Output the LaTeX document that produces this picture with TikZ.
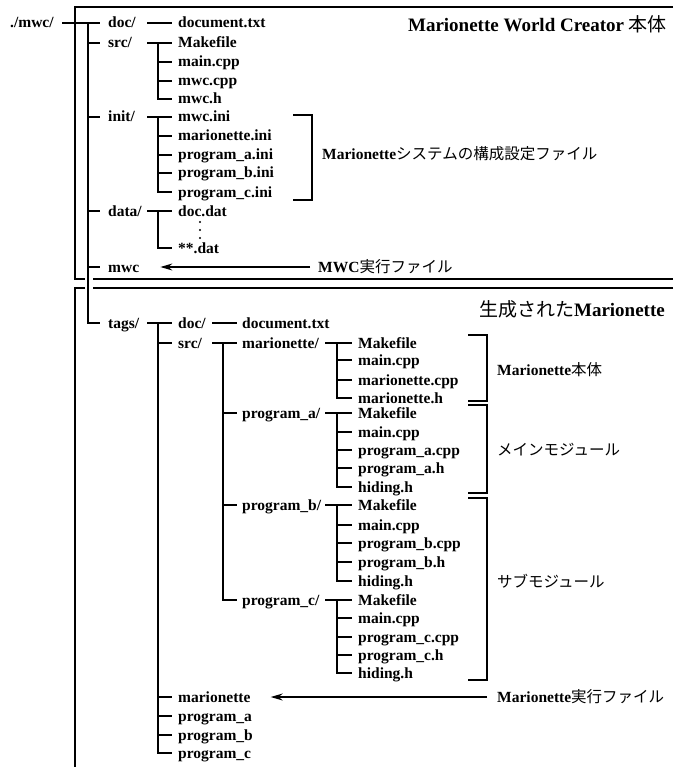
\documentclass[tikz,border=0pt]{standalone}
\usepackage{fontspec}
\setmainfont{Liberation Serif}
\newfontfamily\cjk{Noto Sans CJK JP}
\usetikzlibrary{arrows.meta}
\newcommand\jtxt[1]{{\cjk\mdseries #1}}
\newcommand\tgrp[6]{\draw[tree] (#1 -| #2) -- (#5 -| #4); \draw[tree] (#5 -| #3) |- (#6 -| #4);}
\newcommand\tmid[3]{\draw[tree] (#1 -| #2) -- (#1 -| #3);}
\begin{document}
\begin{tikzpicture}[x=1pt,y=-1pt,
  lbl/.style={anchor=west, inner sep=0pt, text height=12pt, text depth=2pt, font=\fontsize{15.5}{18}\selectfont\bfseries},
  ttl/.style={anchor=base east, inner sep=0pt, font=\fontsize{19}{22}\selectfont\bfseries},
  tree/.style={line width=2pt, line join=miter},
  boxl/.style={line width=1.3pt},
  brk/.style={line width=1.5pt, line join=miter},
  arr/.style={line width=1.3pt, -{Stealth[length=12pt,width=7pt,inset=4pt]}}]
\useasboundingbox (0,0) rectangle (673,767);
% column coordinates
\coordinate (xr0) at (62,0);
\coordinate (xt0) at (88,0);
\coordinate (xe0) at (100,0);
\coordinate (xs1) at (147,0);
\coordinate (xt1) at (158,0);
\coordinate (xe1) at (172,0);
\coordinate (xs2) at (212,0);
\coordinate (xt2) at (223,0);
\coordinate (xe2) at (237,0);
\coordinate (xs3) at (325,0);
\coordinate (xt3) at (337,0);
\coordinate (xe3) at (352,0);
% boxes
\draw[boxl] (673,7) -- (75,7) -- (75,279) -- (85,279);
\draw[boxl] (93,279) -- (673,279);
\draw[boxl] (673,288) -- (93,288);
\draw[boxl] (85,288) -- (75,288) -- (75,767);
% titles
\node[ttl] (t1) at (667,32) {Marionette World Creator \jtxt{本体}};
\node[ttl] (t2) at (665,316) {\jtxt{生成された}Marionette};
% top tree
\node[lbl] (root) at (10,23) {./mwc/};
\node[lbl] (adoc) at (108,23) {doc/};
\node[lbl] (adoctxt) at (178,23) {document.txt};
\node[lbl] (asrc) at (108,43) {src/};
\node[lbl] (amk) at (178,43) {Makefile};
\node[lbl] (amain) at (178,62) {main.cpp};
\node[lbl] (amwccpp) at (178,81) {mwc.cpp};
\node[lbl] (amwch) at (178,99) {mwc.h};
\node[lbl] (ainit) at (108,117) {init/};
\node[lbl] (ai1) at (178,117) {mwc.ini};
\node[lbl] (ai2) at (178,136) {marionette.ini};
\node[lbl] (ai3) at (178,155) {program\_a.ini};
\node[lbl] (ai4) at (178,173) {program\_b.ini};
\node[lbl] (ai5) at (178,192) {program\_c.ini};
\node[lbl] (adata) at (108,211) {data/};
\node[lbl] (add) at (178,211) {doc.dat};
\node[lbl] (asd) at (178,248) {**.dat};
\node[lbl] (amwc) at (108,267) {mwc};
\node[lbl] (lmwc) at (318,267) {MWC\jtxt{実行ファイル}};
\node[lbl] (linit) at (322,155) {Marionette\jtxt{システムの構成設定ファイル}};
% lower tree
\node[lbl] (btags) at (108,323) {tags/};
\node[lbl] (bdoc) at (178,323) {doc/};
\node[lbl] (bdoctxt) at (242,323) {document.txt};
\node[lbl] (bsrc) at (178,343) {src/};
\node[lbl] (cmar) at (242,343) {marionette/};
\node[lbl] (m1) at (358,343) {Makefile};
\node[lbl] (m2) at (358,360) {main.cpp};
\node[lbl] (m3) at (358,380) {marionette.cpp};
\node[lbl] (m4) at (358,398) {marionette.h};
\node[lbl] (cpa) at (242,413) {program\_a/};
\node[lbl] (pa1) at (358,413) {Makefile};
\node[lbl] (pa2) at (358,432) {main.cpp};
\node[lbl] (pa3) at (358,450) {program\_a.cpp};
\node[lbl] (pa4) at (358,468) {program\_a.h};
\node[lbl] (pa5) at (358,487) {hiding.h};
\node[lbl] (cpb) at (242,505) {program\_b/};
\node[lbl] (pb1) at (358,505) {Makefile};
\node[lbl] (pb2) at (358,525) {main.cpp};
\node[lbl] (pb3) at (358,543) {program\_b.cpp};
\node[lbl] (pb4) at (358,562) {program\_b.h};
\node[lbl] (pb5) at (358,581) {hiding.h};
\node[lbl] (cpc) at (242,600) {program\_c/};
\node[lbl] (pc1) at (358,600) {Makefile};
\node[lbl] (pc2) at (358,618) {main.cpp};
\node[lbl] (pc3) at (358,637) {program\_c.cpp};
\node[lbl] (pc4) at (358,655) {program\_c.h};
\node[lbl] (pc5) at (358,673) {hiding.h};
\node[lbl] (bmar) at (178,697) {marionette};
\node[lbl] (bpa) at (178,716) {program\_a};
\node[lbl] (bpb) at (178,735) {program\_b};
\node[lbl] (bpc) at (178,753) {program\_c};
\node[lbl] (lmar) at (497,370) {Marionette\jtxt{本体}};
\node[lbl] (lpa) at (497,450) {\jtxt{メインモジュール}};
\node[lbl] (lpb) at (497,582) {\jtxt{サブモジュール}};
\node[lbl] (lexe) at (497,697) {Marionette\jtxt{実行ファイル}};
% tree connectors
\tgrp{root}{xr0}{xt0}{xe0}{adoc}{btags}
\foreach \n in {asrc,ainit,adata,amwc} {\tmid{\n}{xt0}{xe0}}
\draw[tree] (adoc -| xs1) -- (adoctxt -| xe1);
\tgrp{asrc}{xs1}{xt1}{xe1}{amk}{amwch}
\foreach \n in {amain,amwccpp} {\tmid{\n}{xt1}{xe1}}
\tgrp{ainit}{xs1}{xt1}{xe1}{ai1}{ai5}
\foreach \n in {ai2,ai3,ai4} {\tmid{\n}{xt1}{xe1}}
\tgrp{adata}{xs1}{xt1}{xe1}{add}{asd}
\tgrp{btags}{xs1}{xt1}{xe1}{bdoc}{bpc}
\foreach \n in {bsrc,bmar,bpa,bpb} {\tmid{\n}{xt1}{xe1}}
\draw[tree] (bdoc -| xs2) -- (bdoctxt -| xe2);
\tgrp{bsrc}{xs2}{xt2}{xe2}{cmar}{cpc}
\foreach \n in {cpa,cpb} {\tmid{\n}{xt2}{xe2}}
\tgrp{cmar}{xs3}{xt3}{xe3}{m1}{m4}
\foreach \n in {m2,m3} {\tmid{\n}{xt3}{xe3}}
\tgrp{cpa}{xs3}{xt3}{xe3}{pa1}{pa5}
\foreach \n in {pa2,pa3,pa4} {\tmid{\n}{xt3}{xe3}}
\tgrp{cpb}{xs3}{xt3}{xe3}{pb1}{pb5}
\foreach \n in {pb2,pb3,pb4} {\tmid{\n}{xt3}{xe3}}
\tgrp{cpc}{xs3}{xt3}{xe3}{pc1}{pc5}
\foreach \n in {pc2,pc3,pc4} {\tmid{\n}{xt3}{xe3}}
% vertical dots
\fill (200,222) circle (1.1pt);
\fill (200,230) circle (1.1pt);
\fill (200,238) circle (1.1pt);
% brackets
\draw[brk] (293,115) -- (312,115) -- (312,200) -- (293,200);
\draw[brk] (468,335) -- (487,335) -- (487,401) -- (468,401);
\draw[brk] (468,405) -- (487,405) -- (487,493) -- (468,493);
\draw[brk] (468,498) -- (487,498) -- (487,680) -- (468,680);
% arrows
\draw[arr] ([xshift=-8pt]lmwc.west) -- ([xshift=21pt]amwc.east);
\draw[arr] ([xshift=-10pt]lexe.west) -- ([xshift=20pt]bmar.east);
\end{tikzpicture}
\end{document}
